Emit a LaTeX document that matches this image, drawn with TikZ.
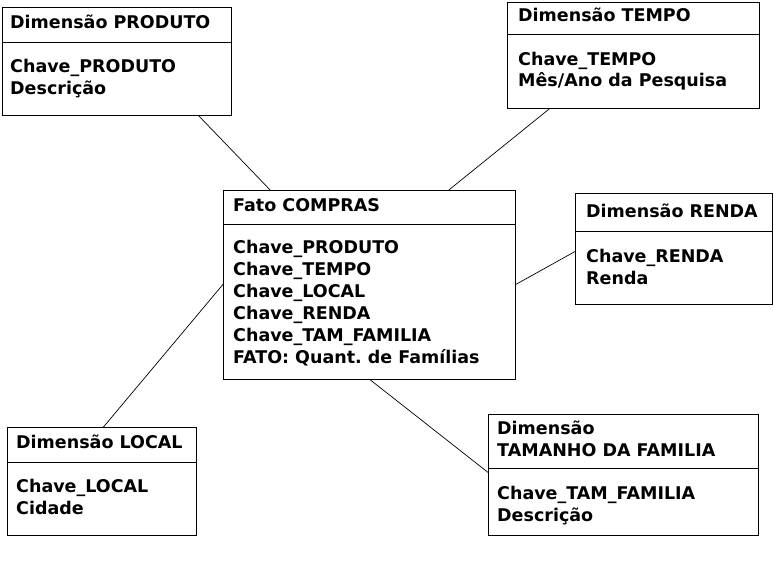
\documentclass[tikz,border=0pt]{standalone}
\usepackage{fontspec}
\setmainfont{DejaVu Sans}
\usetikzlibrary{calc}
\frenchspacing
\tikzset{
  box/.style={draw=black, line width=0.9pt, fill=white, rectangle, inner sep=0pt, anchor=north west},
  txt/.style={anchor=base west, inner sep=0pt, font=\fontsize{17.5}{22}\selectfont\bfseries},
  conn/.style={draw=black, line width=0.7pt},
  sep/.style={draw=black, line width=0.9pt}
}
\begin{document}
\begin{tikzpicture}[x=1pt,y=-1pt]
\useasboundingbox[fill=white] (0,0) rectangle (774,566);
% boxes
\node[box, minimum width=229pt, minimum height=108pt] (produto) at (2,7) {};
\node[box, minimum width=252pt, minimum height=106pt] (tempo) at (507,2) {};
\node[box, minimum width=292pt, minimum height=189pt] (fato) at (223,190) {};
\node[box, minimum width=197pt, minimum height=111pt] (renda) at (575,193) {};
\node[box, minimum width=189pt, minimum height=108pt] (local) at (7,427) {};
\node[box, minimum width=270pt, minimum height=121pt] (tam) at (488,414) {};
% separators
\draw[sep] ([yshift=-35pt]produto.north west) -- ([yshift=-35pt]produto.north east);
\draw[sep] ([yshift=-32pt]tempo.north west) -- ([yshift=-32pt]tempo.north east);
\draw[sep] ([yshift=-34pt]fato.north west) -- ([yshift=-34pt]fato.north east);
\draw[sep] ([yshift=-38pt]renda.north west) -- ([yshift=-38pt]renda.north east);
\draw[sep] ([yshift=-35pt]local.north west) -- ([yshift=-35pt]local.north east);
\draw[sep] ([yshift=-54pt]tam.north west) -- ([yshift=-54pt]tam.north east);
% texts
\node[txt] (p0) at (10,28) {Dimensão PRODUTO};
\node[txt] (p1) at (10,72) {Chave\_PRODUTO};
\node[txt] (p2) at (10,94) {Descrição};
\node[txt] (t0) at (518,21) {Dimensão TEMPO};
\node[txt] (t1) at (518,65) {Chave\_TEMPO};
\node[txt] (t2) at (518,86) {Mês/Ano da Pesquisa};
\node[txt] (f0) at (233,211) {Fato COMPRAS};
\node[txt] (f1) at (233,253) {Chave\_PRODUTO};
\node[txt] (f2) at (233,275) {Chave\_TEMPO};
\node[txt] (f3) at (233,297) {Chave\_LOCAL};
\node[txt] (f4) at (233,319) {Chave\_RENDA};
\node[txt] (f5) at (233,341) {Chave\_TAM\_FAMILIA};
\node[txt] (f6) at (233,363) {FATO: Quant. de Famílias};
\node[txt] (r0) at (586,217) {Dimensão RENDA};
\node[txt] (r1) at (586,262) {Chave\_RENDA};
\node[txt] (r2) at (586,284) {Renda};
\node[txt] (l0) at (16,448) {Dimensão LOCAL};
\node[txt] (l1) at (16,492) {Chave\_LOCAL};
\node[txt] (l2) at (16,514) {Cidade};
\node[txt] (m0) at (497,434) {Dimensão};
\node[txt] (m1) at (497,456) {TAMANHO DA FAMILIA};
\node[txt] (m2) at (497,499) {Chave\_TAM\_FAMILIA};
\node[txt] (m3) at (497,521) {Descrição};
% connectors
\draw[conn] ($(produto.south west)!0.856!(produto.south east)$) -- ($(fato.north west)!0.161!(fato.north east)$);
\draw[conn] ($(tempo.south west)!0.167!(tempo.south east)$) -- ($(fato.north west)!0.771!(fato.north east)$);
\draw[conn] ($(renda.north west)!0.523!(renda.south west)$) -- ($(fato.north east)!0.497!(fato.south east)$);
\draw[conn] ($(local.north west)!0.508!(local.north east)$) -- ($(fato.north west)!0.497!(fato.south west)$);
\draw[conn] ($(tam.north west)!0.479!(tam.south west)$) -- ($(fato.south west)!0.503!(fato.south east)$);
\end{tikzpicture}
\end{document}
